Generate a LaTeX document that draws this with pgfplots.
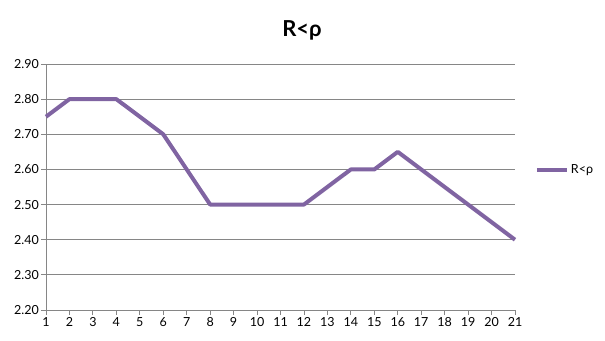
\documentclass[border=0pt]{standalone}
\usepackage{pgfplots}
\pgfplotsset{compat=1.18}
\usepackage{fontspec}
\setmainfont{Lato}
\definecolor{ln}{HTML}{8064A2}
\definecolor{gr}{HTML}{868686}
\begin{document}
\begin{tikzpicture}[x=1pt,y=1pt]
\begin{axis}[
  at={(0,0)}, anchor=south west,
  scale only axis, width=469pt, height=246pt,
  xmin=1, xmax=21, ymin=2.2, ymax=2.9,
  xtick={1,...,21},
  ytick={2.2,2.3,...,2.9},
  yticklabel={\pgfmathprintnumber[fixed,fixed zerofill,precision=2]{\tick}},
  /pgf/number format/assume math mode=true,
  tick label style={font=\fontsize{12.5}{14}\selectfont, text=black},
  xticklabel style={text height=9pt, text depth=0pt, inner sep=2pt},
  yticklabel style={inner sep=2pt},
  ymajorgrids, grid style={gr, line width=0.9pt},
  axis line style={gr, line width=0.9pt},
  axis x line=bottom, axis y line=left,
  x axis line style={-}, y axis line style={-},
  tick style={gr, line width=0.9pt},
  tick align=outside, major tick length=5pt,
  xtick pos=bottom, ytick pos=left,
  legend style={at={(1.04,0.57)}, anchor=west, draw=none, fill=none,
    font=\fontsize{12.5}{14}\selectfont, inner sep=1pt},
  legend image code/.code={\draw[#1, line width=4pt] (0,0) -- (30pt,0);},
  clip=false,
]
\addplot[ln, line width=4pt, line join=round] coordinates {
(1,2.75) (2,2.80) (3,2.80) (4,2.80) (5,2.75) (6,2.70) (7,2.60) (8,2.50)
(9,2.50) (10,2.50) (11,2.50) (12,2.50) (13,2.55) (14,2.60) (15,2.60)
(16,2.65) (17,2.60) (18,2.55) (19,2.50) (20,2.45) (21,2.40)};
\addlegendentry{R<ρ}
\end{axis}
\node[font=\fontsize{22}{26}\selectfont\bfseries] at (256,280) {R<ρ};
\useasboundingbox (-46,-30) rectangle (559,310);
\end{tikzpicture}
\end{document}
